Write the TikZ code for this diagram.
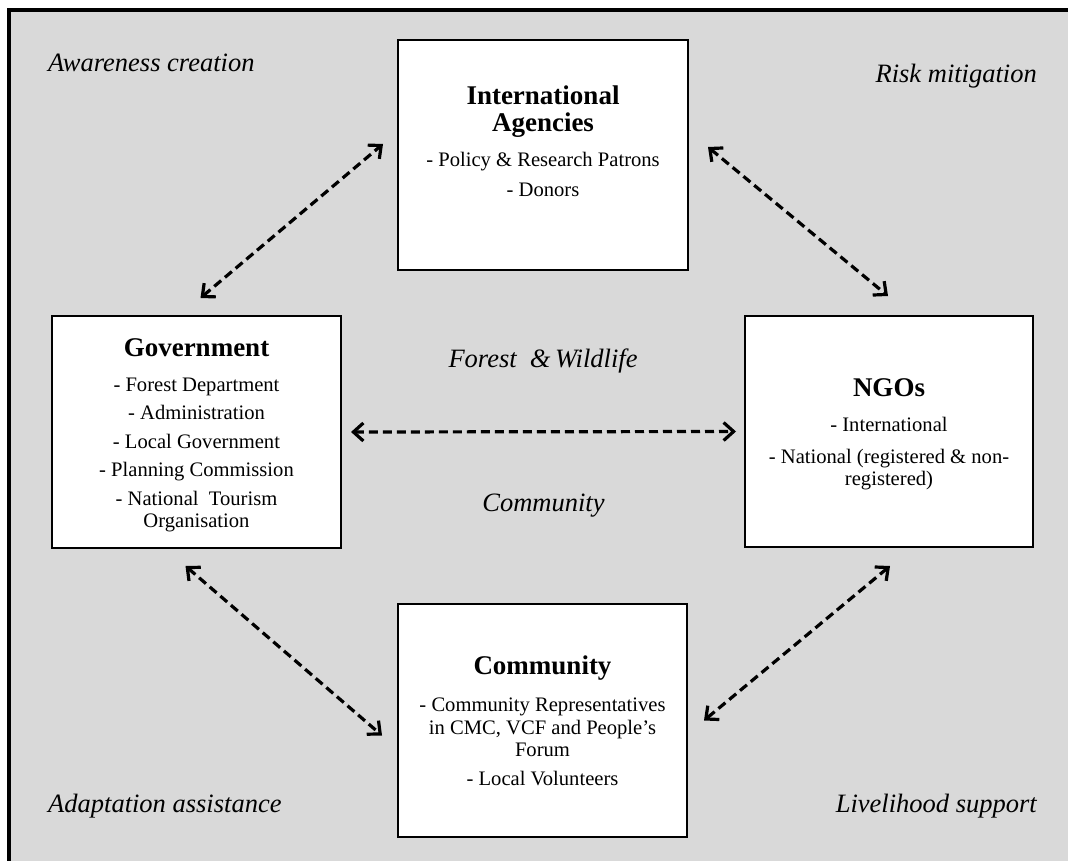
\documentclass[tikz,border=0pt]{standalone}
\usepackage{fontspec}
\setmainfont{Liberation Serif}
\usetikzlibrary{arrows.meta,calc}
\definecolor{panelgray}{HTML}{D9D9D9}
\tikzset{
  actor/.style={draw=black, line width=2pt, fill=white, inner sep=0pt},
  boxtext/.style={align=center, inner sep=0pt, anchor=north, font=\fontsize{20.6}{22.5}\selectfont},
  theme/.style={font=\fontsize{26.5}{28}\selectfont\itshape, inner sep=0pt},
  barb/.tip={Straight Barb[length=10pt,width=18pt]},
  link/.style={dashed, dash pattern=on 9pt off 5pt, line width=3.2pt, barb-barb}
}
\newcommand{\boxtitle}[1]{{\fontsize{27}{22}\selectfont\bfseries #1}}
\begin{document}
\begin{tikzpicture}[x=1pt,y=-1pt]
  \useasboundingbox (0,0) rectangle (1068,861);
  \clip (0,0) rectangle (1068,861);
  \fill[white] (0,0) rectangle (1068,861);
  % framed grey panel, running off the right and bottom edges
  \filldraw[fill=panelgray, draw=black, line width=4pt] (9,10) rectangle (1090,890);

  % stakeholder boxes
  \node[actor, minimum width=290pt, minimum height=230pt] (ia)   at (543,155)   {};
  \node[actor, minimum width=289pt, minimum height=232pt] (gov)  at (196.5,432) {};
  \node[actor, minimum width=288pt, minimum height=231pt] (ngo)  at (889,431.5) {};
  \node[actor, minimum width=289pt, minimum height=233pt] (comm) at (542.5,720.5) {};

  % box contents
  \node[boxtext] (iatext) at (543,86) {\boxtitle{International}\\[4.5pt]\boxtitle{Agencies}\\[12.5pt]
    - Policy \& Research Patrons\\[7.5pt] - Donors};
  \node[boxtext] (govtext) at (196.5,338) {\boxtitle{Government}\\[12.5pt]
    - Forest Department\\[6pt] - Administration\\[6pt] - Local Government\\[6pt]
    - Planning Commission\\[6pt] - National\ \ Tourism\\ Organisation};
  \node[boxtext] (ngotext) at (889,378) {\boxtitle{NGOs}\\[12.5pt]
    - International\\[9.5pt] - National (registered \& non-\\ registered)};
  \node[boxtext] (commtext) at (542.5,656) {\boxtitle{Community}\\[14.5pt]
    - Community Representatives\\ in CMC, VCF and People’s\\ Forum\\[6.5pt] - Local Volunteers};

  % themes around the network
  \node[theme, anchor=base west] (aware) at (48,72)   {Awareness creation};
  \node[theme, anchor=base east] (risk)  at (1037,83) {Risk mitigation};
  \node[theme, anchor=base west] (adapt) at (48,812)  {Adaptation assistance};
  \node[theme, anchor=base east] (live)  at (1037,812) {Livelihood support};
  \node[theme, anchor=base] (forest) at (543,367) {Forest\ \ \&\,Wildlife};
  \node[theme, anchor=base] (commtheme) at (543.5,511) {Community};

  % two-way links between stakeholders
  \draw[link] ($(gov.north)+(4,-17)$) -- ($(ia.west)+(-14,-11)$);
  \draw[link] ($(ia.east)+(19,-8)$) -- ($(ngo.north)+(-1,-19)$);
  \draw[link] ($(gov.east)+(9,0)$) -- ($(ngo.west)+(-8,0)$);
  \draw[link] ($(gov.south)+(-11,17)$) -- ($(comm.west)+(-15,15)$);
  \draw[link] ($(ngo.south)+(1,18)$) -- ($(comm.east)+(16,0)$);
\end{tikzpicture}
\end{document}
